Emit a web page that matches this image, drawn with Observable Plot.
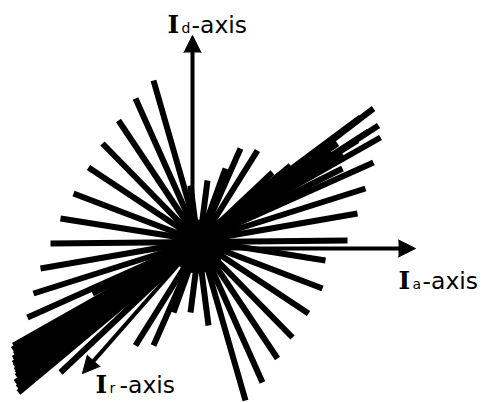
<!DOCTYPE html>
<html>
<head>
<meta charset="utf-8">
<script src="https://cdn.jsdelivr.net/npm/d3@7"></script>
<script src="https://cdn.jsdelivr.net/npm/@observablehq/plot@0.6"></script>
<style>
  html, body { margin: 0; padding: 0; background: #fff; }
  #chart svg { display: block; }
</style>
</head>
<body>
<div id="chart"></div>
<script>
// Current vectors in the (Ia, Id) plane: each segment runs from a start
// point to an end point, both given in plot units (Ia across, Id up).
const startIa = [-39, -57, -74, -90, -104, -119, -132, -142, -152, -159, -165, -179, -179, -177, -174, 65, 48, 33, 15, -2, 80,
                 -180, -178, -179, -178, -177, -176, -175, -100, -178, -176];
const startId = [168, 150, 128, 105, 81, 55, 30, 5, -20, -45, -69, -97, -115, -134, -144, 98, 100, 80, 68, 63, 76,
                 -101, -106, -110, -118, -122, -128, -139, -45, -112, -125];
const endIa   = [53, 70, 85, 100, 116, 130, 133, 155, 165, 173, 181, 188, 186, 181, 98, -57, -39, -19, -2, 16, -132,
                 150, 165, 140, 145, 130, 120, 110, 150, 176, 168];
const endId   = [-152, -134, -110, -89, -65, -40, -12, 8, 35, 60, 86, 111, 123, 140, 83, -97, -97, -64, -64, -77, -124,
                 95, 108, 95, 105, 96, 92, 85, 80, 117, 131];

// Dense core where all the vectors cross
const coreIa = [5];
const coreId = [2];

// Reference axes: subscript of each axis name and the arrow tip
const axisSub = ["d", "a", "r"];
const axisTipIa = [0, 223, -110];
const axisTipId = [213, 0, -125];

const segments = startIa.map((_, i) => ({
  x1: startIa[i], y1: startId[i], x2: endIa[i], y2: endId[i]
}));
const core = coreIa.map((v, i) => ({ia: v, id: coreId[i]}));

const HEAD = 17; // arrowhead length in px (1 unit = 1 px)
const axes = axisSub.map((s, i) => {
  const tx = axisTipIa[i], ty = axisTipId[i];
  const len = Math.hypot(tx, ty);
  const k = (len - HEAD * 0.6) / len;
  return {
    sub: s, tx, ty,
    sx: tx * k, sy: ty * k,
    rot: Math.atan2(tx, ty) * 180 / Math.PI
  };
});

// Label placement relative to each arrow tip (px)
const labelOffset = {d: [-25, -3], a: [-17, 40], r: [13, 19]};

const labelMarks = [];
for (const a of axes) {
  const [ox, oy] = labelOffset[a.sub];
  labelMarks.push(
    Plot.text([a], {x: "tx", y: "ty", text: () => "I", dx: ox, dy: oy,
      textAnchor: "start", lineAnchor: "bottom", fontSize: 25, fontWeight: "bold",
      fontFamily: "'Comic Sans MS', 'DejaVu Serif', serif", fill: "black"}),
    Plot.text([a], {x: "tx", y: "ty", text: "sub", dx: ox + 14, dy: oy,
      textAnchor: "start", lineAnchor: "bottom", fontSize: 14,
      fontFamily: "'Comic Sans MS', 'DejaVu Sans', sans-serif", fill: "black"}),
    Plot.text([a], {x: "tx", y: "ty", text: () => "-axis", dx: ox + 24, dy: oy,
      textAnchor: "start", lineAnchor: "bottom", fontSize: 23.5,
      fontFamily: "'Comic Sans MS', 'DejaVu Sans', sans-serif", fill: "black"})
  );
}

const chart = Plot.plot({
  width: 482,
  height: 402,
  margin: 0,
  x: {domain: [-192, 290], axis: null},
  y: {domain: [-154, 248], axis: null},
  style: {background: "white", overflow: "visible"},
  marks: [
    Plot.link(segments, {
      x1: "x1", y1: "y1", x2: "x2", y2: "y2",
      stroke: "black", strokeWidth: 6, strokeLinecap: "butt"
    }),
    Plot.dot(core, {x: "ia", y: "id", r: 27, fill: "black"}),
    // axis shafts from the origin
    Plot.link(axes, {
      x1: () => 0, y1: () => 0, x2: "sx", y2: "sy",
      stroke: "black", strokeWidth: 4, strokeLinecap: "butt"
    }),
    // filled arrowheads
    Plot.vector(axes, {
      x: "tx", y: "ty", rotate: "rot", length: HEAD, r: 8.5,
      shape: "spike", anchor: "end",
      fill: "black", fillOpacity: 1, stroke: "black", strokeWidth: 1
    }),
    ...labelMarks
  ]
});

document.getElementById("chart").appendChild(chart);
</script>
</body>
</html>
